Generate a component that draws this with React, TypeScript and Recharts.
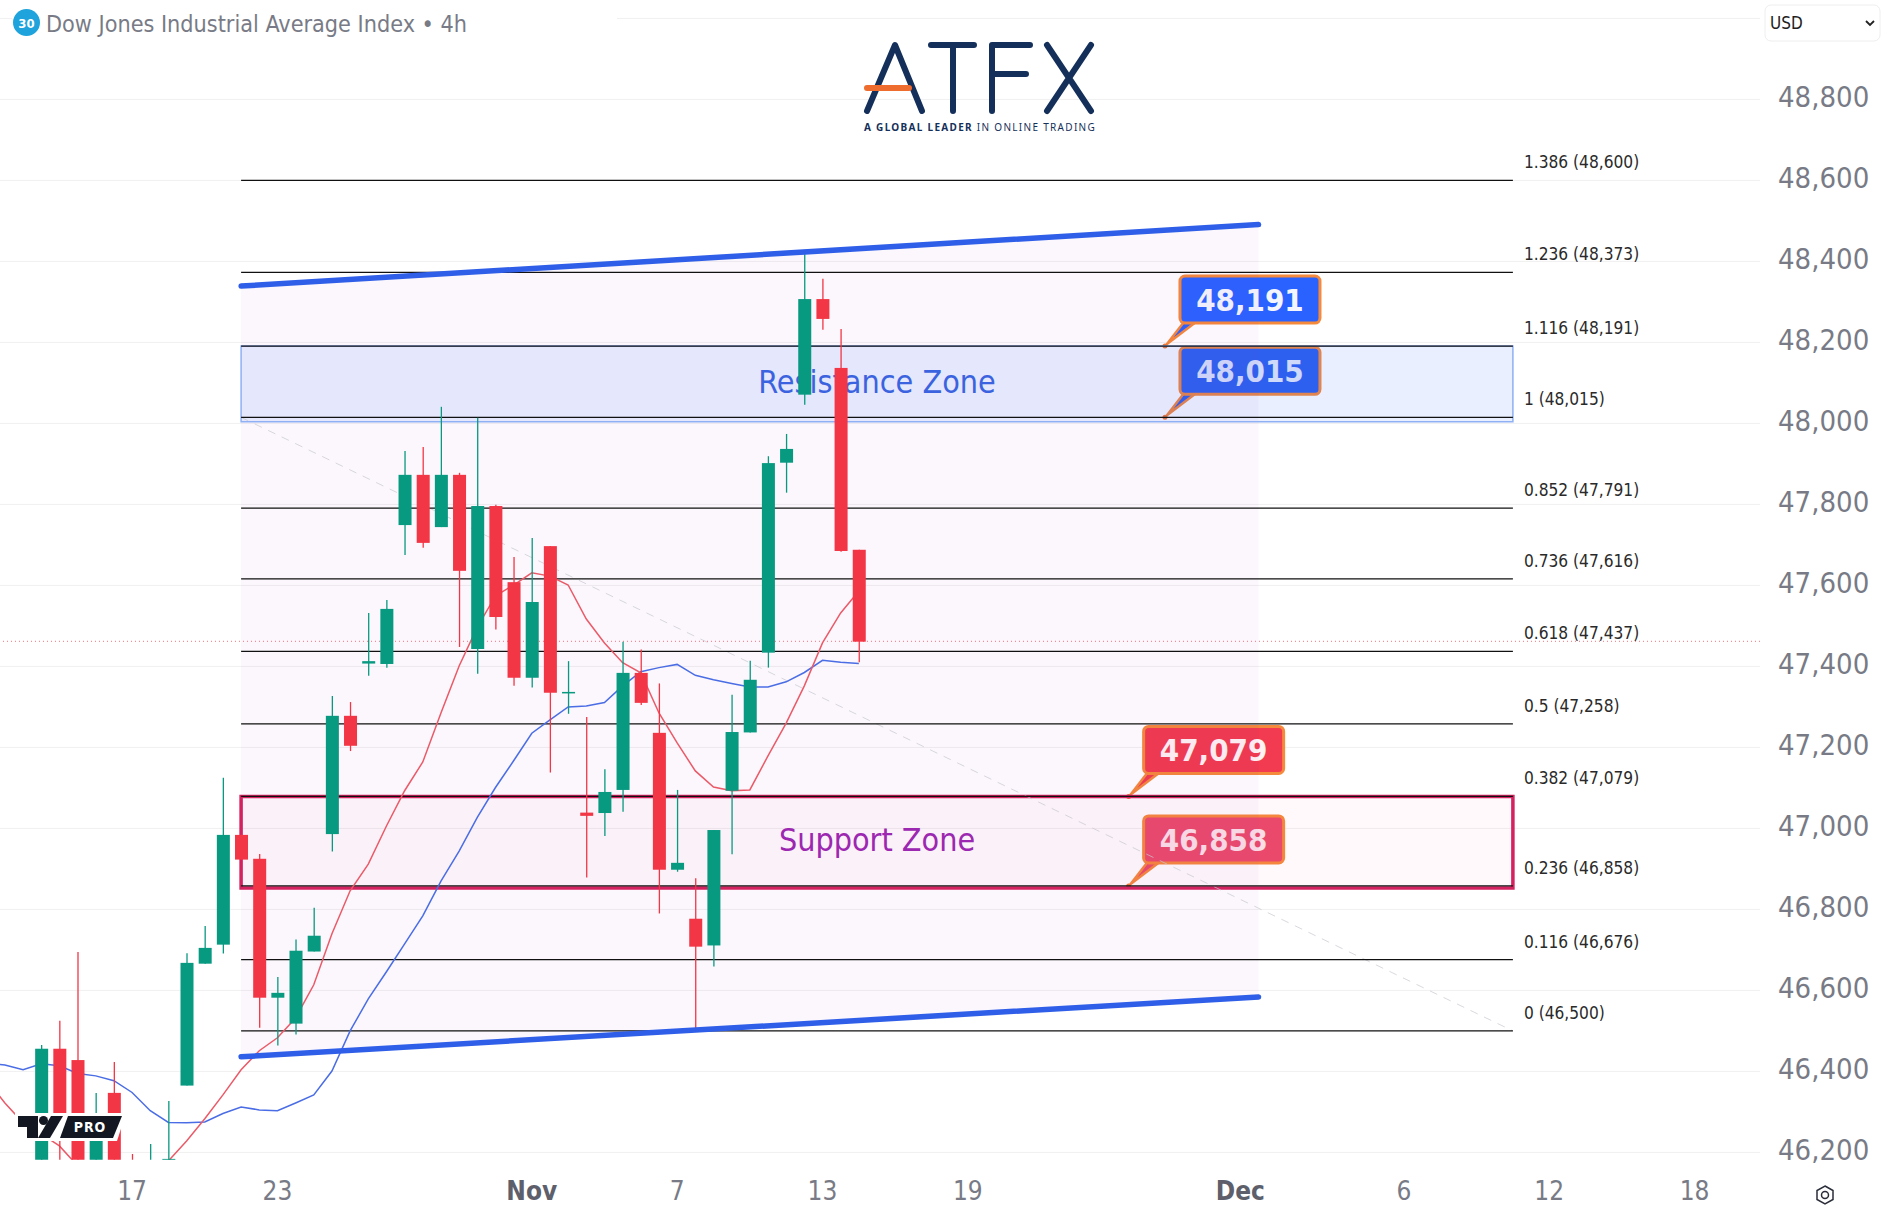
import {
  Area,
  Bar,
  CartesianGrid,
  ComposedChart,
  Line,
  ReferenceArea,
  ReferenceDot,
  ReferenceLine,
  XAxis,
  YAxis,
} from "recharts";

const FONT = "'DejaVu Sans Condensed', 'Noto Sans', sans-serif";
const UP = "#089981";
const DOWN = "#f23645";

// 4h candles, index 0 to 2 only carry the moving averages
const candleIndex = [0, 1, 2, 3, 4, 5, 6, 7, 8, 9, 10, 11, 12, 13, 14, 15, 16, 17, 18, 19, 20, 21, 22, 23, 24, 25, 26, 27, 28, 29, 30, 31, 32, 33, 34, 35, 36, 37, 38, 39, 40, 41, 42, 43, 44, 45, 46, 47, 48];
const opens = [null, null, null, 46154, 46456, 46428, 46154, 46347, 46167, 46130, 46179, 46365, 46666, 46713, 46984, 46925, 46582, 46518, 46696, 46986, 47278, 47407, 47406, 47749, 47873, 47744, 47873, 47443, 47796, 47608, 47372, 47697, 47335, 47039, 47038, 47095, 47384, 47236, 46898, 46777, 46711, 47093, 47237, 47434, 47903, 48071, 48307, 48137, 47688];
const highs = [null, null, null, 46465, 46525, 46695, 46347, 46423, 46196, 46221, 46327, 46692, 46759, 47125, 46984, 46937, 46633, 46726, 46804, 47327, 47312, 47532, 47564, 47932, 47942, 48041, 47878, 48014, 47799, 47670, 47717, 47697, 47413, 47275, 47146, 47461, 47442, 47358, 47095, 46877, 46996, 47330, 47414, 47919, 47974, 48426, 48357, 48233, 47688];
const lows = [null, null, null, 46140, 46142, 46140, 46140, 46140, 46120, 46120, 46170, 46365, 46666, 46691, 46923, 46508, 46464, 46491, 46696, 46943, 47191, 47377, 47397, 47675, 47693, 47744, 47448, 47382, 47491, 47352, 47348, 47138, 47283, 46879, 46981, 47041, 47305, 46790, 46893, 46500, 46659, 46936, 47237, 47397, 47829, 48046, 48231, 47683, 47410];
const closes = [null, null, null, 46456, 46261, 46154, 46265, 46154, 46130, 46167, 46184, 46668, 46705, 46984, 46923, 46582, 46594, 46698, 46735, 47278, 47204, 47413, 47542, 47873, 47705, 47873, 47636, 47796, 47522, 47372, 47559, 47335, 47337, 47031, 47090, 47384, 47310, 46898, 46915, 46708, 46996, 47238, 47367, 47902, 47937, 48307, 48258, 47685, 47461];
const fastMa = [46380, 46322, 46273, 46246, 46216, 46167, 46117, 46093, 46093, 46117, 46179, 46228, 46283, 46342, 46404, 46451, 46483, 46532, 46614, 46740, 46846, 46912, 47006, 47093, 47164, 47285, 47401, 47497, 47574, 47601, 47631, 47623, 47601, 47517, 47458, 47409, 47384, 47285, 47211, 47142, 47102, 47093, 47095, 47179, 47260, 47352, 47458, 47532, 47586];
const slowMa = [46420, 46416, 46404, 46419, 46414, 46395, 46389, 46377, 46348, 46303, 46274, 46273, 46275, 46296, 46312, 46305, 46303, 46322, 46342, 46401, 46500, 46579, 46646, 46715, 46784, 46870, 46944, 47027, 47101, 47167, 47235, 47268, 47300, 47302, 47311, 47352, 47387, 47397, 47405, 47378, 47367, 47358, 47349, 47349, 47362, 47385, 47415, 47410, 47407];

const priceTicks = [46200, 46400, 46600, 46800, 47000, 47200, 47400, 47600, 47800, 48000, 48200, 48400, 48600, 48800];
const gridLevels = [...priceTicks, 49000];
const dateTicks = [8, 16, 30, 38, 46, 54, 69, 78, 86, 94];
const dateLabels = ["17", "23", "Nov", "7", "13", "19", "Dec", "6", "12", "18"];

const fibRatios = ["1.386", "1.236", "1.116", "1", "0.852", "0.736", "0.618", "0.5", "0.382", "0.236", "0.116", "0"];
const fibLevels = [48600, 48373, 48191, 48015, 47791, 47616, 47437, 47258, 47079, 46858, 46676, 46500];

const channelIndex = [14, 70];
const channelTop = [48339, 48491];
const channelBottom = [46436, 46584];
const lastPrice = 47462;

const calloutIndex = [64.85, 64.85, 62.85, 62.85];
const calloutPrices = [48191, 48015, 47079, 46858];
const calloutColors = ["#2962ff", "#2f60ee", "#f23a50", "#ea4a6c"];
const calloutText = ["#f4f6ff", "#e3e8fb", "#fff3f4", "#fbe3ea"];

const fmt = (v: number) => v.toLocaleString("en-US");

const rows = candleIndex.map((i, n) => {
  const row: any = { i, fast: fastMa[n], slow: slowMa[n] };
  if (opens[n] != null) {
    row.open = opens[n];
    row.close = closes[n];
    row.high = highs[n];
    row.low = lows[n];
    row.range = [lows[n], highs[n]];
  }
  const c = channelIndex.indexOf(i);
  if (c >= 0) row.channel = [channelBottom[c], channelTop[c]];
  return row;
});
rows.push({ i: channelIndex[1], channel: [channelBottom[1], channelTop[1]] });

function Candle(props: any) {
  const { x, y, width, height, payload } = props;
  if (!payload || payload.range == null) return null;
  const { open, close, high, low } = payload;
  const top = Math.min(y, y + height);
  const perUnit = Math.abs(height) / (high - low);
  const bodyTop = top + (high - Math.max(open, close)) * perUnit;
  const bodyH = Math.max(Math.abs(open - close) * perUnit, 1.5);
  const color = close >= open ? UP : DOWN;
  const cx = x + width / 2;
  return (
    <g>
      <line x1={cx} x2={cx} y1={top} y2={top + Math.abs(height)} stroke={color} strokeWidth={1.3} />
      <rect x={x} y={bodyTop} width={width} height={bodyH} fill={color} />
    </g>
  );
}

function Callout({ cx, cy, label, color, textColor }: any) {
  const left = cx + 15;
  const top = cy - 70;
  return (
    <g>
      <path d={`M${cx + 2} ${cy - 2} L${left + 4} ${top + 46} L${left + 16} ${top + 46} Z`} fill={color} stroke="#f5893c" strokeWidth={2.5} strokeLinejoin="round" />
      <circle cx={cx} cy={cy} r={2.5} fill="#f07a35" />
      <rect x={left} y={top} width={140} height={47} rx={5} fill={color} stroke="#f5893c" strokeWidth={3} />
      <text x={left + 70} y={top + 24} fill={textColor} fontFamily={FONT} fontSize={31} fontWeight={700} textAnchor="middle" dominantBaseline="central">
        {label}
      </text>
    </g>
  );
}

function ZoneText({ cx, cy, label, color }: any) {
  return (
    <text x={cx} y={cy} fill={color} fontFamily={FONT} fontSize={32} textAnchor="middle" dominantBaseline="central">
      {label}
    </text>
  );
}

function FibLabel({ cx, cy, label }: any) {
  return (
    <text x={cx + 11} y={cy - 18} fill="#2a2a2a" fontFamily={FONT} fontSize={17.2} dominantBaseline="central">
      {label}
    </text>
  );
}

function PriceTick({ x, y, payload }: any) {
  return (
    <text x={x + 10} y={y - 2} fill="#787b86" fontFamily={FONT} fontSize={29} dominantBaseline="central">
      {fmt(payload.value)}
    </text>
  );
}

function DateTick({ x, y, payload }: any) {
  const label = dateLabels[dateTicks.indexOf(payload.value)];
  const isMonth = label === "Nov" || label === "Dec";
  return (
    <text x={x} y={y + 23} fill={isMonth ? "#5d606b" : "#787b86"} fontWeight={isMonth ? 700 : 400} fontFamily={FONT} fontSize={26} textAnchor="middle" dominantBaseline="central">
      {label}
    </text>
  );
}

function Overlays() {
  return (
    <svg width={1884} height={1219} style={{ position: "absolute", left: 0, top: 0, pointerEvents: "none" }}>
      {/* header */}
      <rect x={12} y={0} width={605} height={37} fill="#fff" />
      <circle cx={26.5} cy={22.5} r={13.5} fill="#1ea3dc" />
      <text x={26.5} y={23} fill="#fff" fontFamily={FONT} fontSize={13} fontWeight={700} textAnchor="middle" dominantBaseline="central">30</text>
      <text x={46} y={23} fill="#787b86" fontFamily={FONT} fontSize={23.2} dominantBaseline="central">Dow Jones Industrial Average Index • 4h</text>

      {/* currency box */}
      <rect x={1765} y={5} width={115} height={36} rx={6} fill="#fff" stroke="#eeeeee" />
      <text x={1770} y={23} fill="#222" fontFamily={FONT} fontSize={17} dominantBaseline="central">USD</text>
      <path d="M1866 21 l4 4 l4 -4" fill="none" stroke="#222" strokeWidth={1.8} />

      {/* ATFX logo */}
      <g fill="none" stroke="#14305a" strokeWidth={6} strokeLinecap="round" strokeLinejoin="round">
        <path d="M867 111 L895 45 L922 111" />
        <path d="M931 45 H974 M953 45 V111" />
        <path d="M992 111 V45 H1030 M992 74 H1026" />
        <path d="M1047 45 L1091 111 M1091 45 L1047 111" />
      </g>
      <path d="M867 88 H909" stroke="#ee6c2d" strokeWidth={6} strokeLinecap="round" />
      <text x={864} y={131} fill="#14305a" fontFamily="'Noto Sans', sans-serif" fontSize={10} letterSpacing={1.3}>
        <tspan fontWeight={700}>A GLOBAL LEADER</tspan> IN ONLINE TRADING
      </text>

      {/* TV PRO badge */}
      <path d="M15 1113 H126 L117 1141 H15 Z" fill="#fff" />
      <path d="M18 1116 H38 V1138 H27 V1127 H18 Z" fill="#131722" />
      <circle cx={43.5} cy={1120.5} r={4.5} fill="#131722" />
      <path d="M51 1116 H63 L50 1138 H38 Z" fill="#131722" />
      <path d="M68 1116 H122 L113 1138 H60 Z" fill="#131722" />
      <text x={90} y={1127} fill="#fff" fontFamily={FONT} fontSize={14} fontWeight={700} letterSpacing={1} textAnchor="middle" dominantBaseline="central">PRO</text>

      {/* settings icon */}
      <path d="M1825 1186 L1833 1190.5 V1199.5 L1825 1204 L1817 1199.5 V1190.5 Z" fill="none" stroke="#2a2e39" strokeWidth={1.5} />
      <circle cx={1825} cy={1195} r={3.5} fill="none" stroke="#2a2e39" strokeWidth={1.5} />
    </svg>
  );
}

export default function App() {
  return (
    <div style={{ position: "absolute", left: 0, top: 0, width: 1884, height: 1219, background: "#fff", overflow: "hidden" }}>
      <ComposedChart width={1884} height={1219} data={rows} margin={{ top: 1, right: 0, bottom: 0, left: 0 }}>
        <CartesianGrid horizontal vertical={false} stroke="#f0f0f0" horizontalValues={gridLevels} />
        <XAxis
          dataKey="i"
          type="number"
          domain={[0.73, 97.6]}
          allowDataOverflow
          ticks={dateTicks}
          interval={0}
          height={59.3}
          axisLine={false}
          tickLine={false}
          tick={<DateTick />}
        />
        <YAxis
          orientation="right"
          type="number"
          domain={[46182, 49043]}
          allowDataOverflow
          ticks={priceTicks}
          interval={0}
          width={124}
          axisLine={false}
          tickLine={false}
          tick={<PriceTick />}
        />

        {calloutPrices.map((p, n) => (
          <ReferenceDot
            key={p}
            x={calloutIndex[n]}
            y={p}
            zIndex={50}
            shape={(s: any) => <Callout {...s} label={fmt(p)} color={calloutColors[n]} textColor={calloutText[n]} />}
          />
        ))}

        <Area dataKey="channel" connectNulls stroke="none" fill="#9c27b0" fillOpacity={0.04} dot={false} activeDot={false} isAnimationActive={false} zIndex={60} />

        <ReferenceArea x1={14} x2={84} y1={48004} y2={48191} fill="#2962ff" fillOpacity={0.1} stroke="#8fb0f5" strokeWidth={1.5} zIndex={70} />
        <ReferenceArea x1={14} x2={84} y1={46853} y2={47079} fill="#f23670" fillOpacity={0.03} stroke="#d3225f" strokeWidth={3.5} zIndex={70} />
        <ReferenceDot x={49} y={48103} zIndex={71} shape={(s: any) => <ZoneText {...s} label="Resistance Zone" color="#3b63e0" />} />
        <ReferenceDot x={49} y={46971} zIndex={71} shape={(s: any) => <ZoneText {...s} label="Support Zone" color="#9c27b0" />} />

        <ReferenceLine
          segment={[{ x: 14, y: 48015 }, { x: 84, y: 46500 }]}
          stroke="#c8c8d0"
          strokeOpacity={0.7}
          strokeDasharray="8 7"
          zIndex={75}
        />
        <ReferenceLine y={lastPrice} stroke={DOWN} strokeOpacity={0.7} strokeWidth={1} strokeDasharray="1 3" zIndex={75} />
        {fibLevels.map((level) => (
          <ReferenceLine
            key={level}
            segment={[{ x: 14, y: level }, { x: 84, y: level }]}
            stroke="#111"
            strokeWidth={1.3}
            zIndex={80}
          />
        ))}
        {fibLevels.map((level, n) => (
          <ReferenceDot
            key={level}
            x={84}
            y={level}
            zIndex={80}
            shape={(s: any) => <FibLabel {...s} label={`${fibRatios[n]} (${fmt(level)})`} />}
          />
        ))}

        <Line dataKey="slow" stroke="#4a6de5" strokeWidth={1.5} dot={false} activeDot={false} isAnimationActive={false} zIndex={90} />
        <Line dataKey="fast" stroke="#ea5a68" strokeWidth={1.5} dot={false} activeDot={false} isAnimationActive={false} zIndex={90} />

        <Bar dataKey="range" barSize={13} shape={<Candle />} isAnimationActive={false} zIndex={100} />

        <ReferenceLine
          segment={[{ x: channelIndex[0], y: channelTop[0] }, { x: channelIndex[1], y: channelTop[1] }]}
          stroke="#2f5ee8"
          strokeWidth={5.5}
          strokeLinecap="round"
          zIndex={110}
        />
        <ReferenceLine
          segment={[{ x: channelIndex[0], y: channelBottom[0] }, { x: channelIndex[1], y: channelBottom[1] }]}
          stroke="#2f5ee8"
          strokeWidth={5.5}
          strokeLinecap="round"
          zIndex={110}
        />
      </ComposedChart>
      <Overlays />
    </div>
  );
}
